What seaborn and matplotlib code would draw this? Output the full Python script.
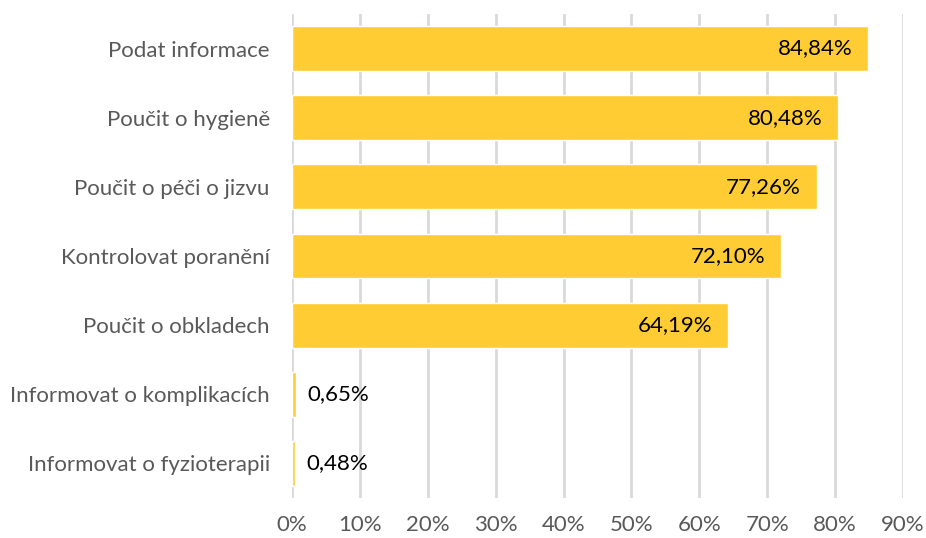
import matplotlib
matplotlib.use("Agg")
import matplotlib.pyplot as plt
import seaborn as sns
import pandas as pd
from matplotlib.ticker import FuncFormatter

categories = ["Podat informace", "Poučit o hygieně", "Poučit o péči o jizvu",
              "Kontrolovat poranění", "Poučit o obkladech",
              "Informovat o komplikacích", "Informovat o fyzioterapii"]
values = [84.84, 80.48, 77.26, 72.10, 64.19, 0.65, 0.48]
xticks = [0, 10, 20, 30, 40, 50, 60, 70, 80, 90]

sns.set_theme(style="white")
plt.rcParams['font.family'] = ['Lato', 'DejaVu Sans']

df = pd.DataFrame({"cat": categories, "val": values})

fig = plt.figure(figsize=(9.26, 5.38), dpi=100)
ax = fig.add_axes([292/926, 1-498/538, (903-292)/926, 484/538])

sns.barplot(data=df, y="cat", x="val", color="#FFCD33", saturation=1,
            width=0.65, ax=ax, orient="h", zorder=3)

ax.set_xlim(0, 90)
ax.set_ylim(6.5, -0.5)
ax.set_xticks(xticks)
ax.xaxis.set_major_formatter(FuncFormatter(lambda v, p: f"{int(v)}%"))
ax.grid(axis="x", color="#D9D9D9", linewidth=2, zorder=0)
ax.set_axisbelow(True)
for s in ax.spines.values():
    s.set_visible(False)
ax.set_xlabel("")
ax.set_ylabel("")
ax.tick_params(axis="x", labelsize=16, colors="#595959", length=0, pad=12)
ax.tick_params(axis="y", labelsize=16, colors="#595959", length=0, pad=16)

for i, v in enumerate(values):
    txt = f"{v:.2f}%".replace(".", ",")
    if v > 10:
        ax.text(v - 2.3, i, txt, ha="right", va="center", fontsize=16, color="black", zorder=4)
    else:
        ax.text(v + 1.6, i, txt, ha="left", va="center", fontsize=16, color="black", zorder=4)

fig.savefig("out.png", dpi=100)
